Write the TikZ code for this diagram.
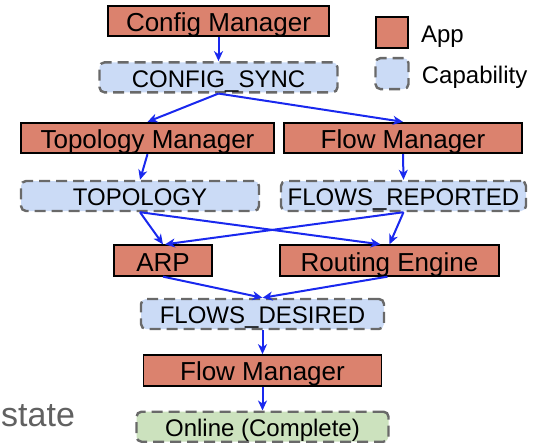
\documentclass[tikz,border=0pt]{standalone}
\usepackage{fontspec}
\setmainfont{Liberation Sans}
\usetikzlibrary{positioning,calc,arrows.meta}
\definecolor{appred}{RGB}{219,130,110}
\definecolor{capblue}{RGB}{203,219,246}
\definecolor{capgreen}{RGB}{204,226,190}
\definecolor{capgray}{RGB}{105,105,105}
\definecolor{linkblue}{RGB}{25,40,238}
\newcommand{\fs}[1]{\fontsize{#1}{#1}\selectfont}
\newcommand{\gp}{24pt}

\begin{document}
\begin{tikzpicture}[x=1pt,y=-1pt,
  appbox/.style={draw=black,line width=1.8pt,fill=appred,minimum height=30.5pt,inner sep=0pt,
    text height=21pt,text depth=0pt,font=\fs{26}},
  capbox/.style={draw=capgray,line width=2.4pt,dash pattern=on 11pt off 6pt,rounded corners=5pt,
    fill=capblue,minimum height=30pt,inner sep=0pt,text height=19.5pt,text depth=0pt,font=\fs{24}},
  legtext/.style={inner sep=0pt,text height=20pt,text depth=0pt,font=\fs{24}},
  link/.style={-{Stealth[length=10pt,width=9pt,inset=3pt]},draw=linkblue,line width=2pt}]
\useasboundingbox (0,0) rectangle (538,444);
\node[appbox,minimum width=221pt]                       (cfgmgr)   at (218.5,21)  {Config Manager};
\node[capbox,minimum width=238pt,below=\gp of cfgmgr]   (cfgsync)                 {CONFIG\_SYNC};
\node[appbox,minimum width=253pt]                       (topomgr)  at (147.5,138) {Topology Manager};
\node[appbox,minimum width=238pt]                       (flowmgr)  at (403,138)   {Flow Manager};
\node[capbox,minimum width=238pt]                       (topo)     at (140,196)   {TOPOLOGY};
\node[capbox,minimum width=245pt]                       (flowsrep) at (403.5,196) {FLOWS\_REPORTED};
\node[appbox,minimum width=98pt]                        (arp)      at (163,260.5) {ARP};
\node[appbox,minimum width=219pt]                       (routing)  at (389.5,260.5) {Routing Engine};
\node[capbox,minimum width=243pt]                       (flowsdes) at (262.5,314) {FLOWS\_DESIRED};
\node[appbox,minimum width=238pt,below=\gp of flowsdes] (flowmgr2)                {Flow Manager};
\node[capbox,fill=capgreen,minimum width=252pt,below=\gp of flowmgr2] (online)    {Online (Complete)};
% legend
\node[appbox,minimum width=32pt,minimum height=31pt]    (legapp)   at (392,32.5)  {};
\node[capbox,minimum width=33pt,minimum height=31pt,below=8pt of legapp] (legcap) {};
\node[legtext,right=12pt of legapp]                     (legapptx)                {App};
\node[legtext,right=12pt of legcap]                     (legcaptx)                {Capability};
\node[anchor=base west,inner sep=0pt,text=black!62,font=\fs{34}] (state) at (1,426) {state};
%
\draw[link] (cfgmgr.south)  -- (cfgsync.north);
\draw[link] (cfgsync.south) -- (topomgr.north);
\draw[link] (cfgsync.south) -- (flowmgr.north);
\draw[link] (topomgr.south) -- (topo.north);
\draw[link] (flowmgr.south) -- (flowsrep.north);
\draw[link] (topo.south)    -- (arp.north);
\draw[link] (topo.south)    -- ($(routing.north)+(-9,0)$);
\draw[link] (flowsrep.south) -- (routing.north);
\draw[link] (flowsrep.south) -- ($(arp.north)+(2,0)$);
\draw[link] (arp.south)     -- (flowsdes.north);
\draw[link] ($(routing.south)+(-2,0)$) -- (flowsdes.north);
\draw[link] (flowsdes.south) -- (flowmgr2.north);
\draw[link] (flowmgr2.south) -- (online.north);
\end{tikzpicture}
\end{document}
